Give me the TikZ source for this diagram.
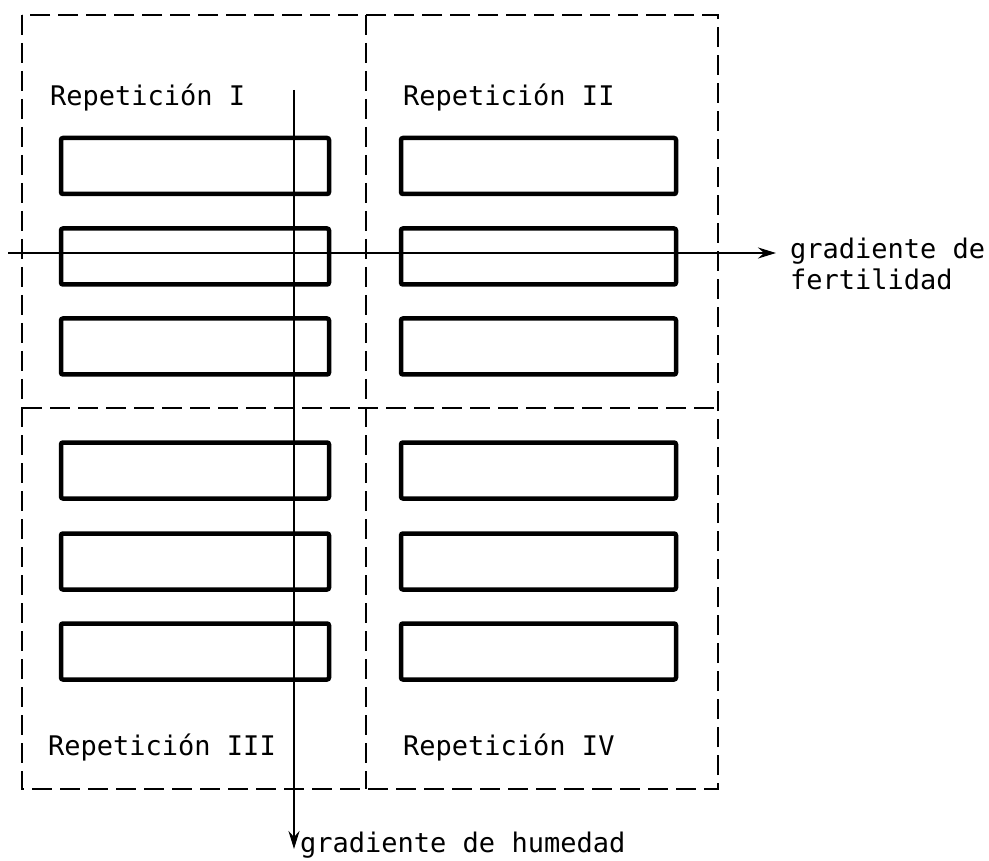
\documentclass[tikz,border=0pt]{standalone}
\usepackage{fontspec}
\setmonofont{DejaVu Sans Mono}
\usetikzlibrary{arrows.meta}
\begin{document}
\begin{tikzpicture}[x=1pt,y=-1pt,
  plot/.style={draw,line width=4.5pt,rounded corners=2pt,minimum height=56pt,inner sep=0pt},
  lplot/.style={plot,minimum width=268pt},
  rplot/.style={plot,minimum width=275pt},
  border/.style={line width=2.8pt,dash pattern=on 20pt off 8pt},
  grad/.style={line width=2.4pt,-{Stealth[length=18pt,width=11pt,inset=6pt]}},
  lab/.style={anchor=base west,inner sep=0pt,font=\fontsize{27}{30}\selectfont\ttfamily}]
\useasboundingbox (0,0) rectangle (989,861);
% dashed blocks
\draw[border] (22,15) rectangle (718,789);
\draw[border] (366,15) -- (366,789);
\draw[border] (22,408) -- (718,408);
% plots
\foreach \n/\y in {1/166,2/256.5,3/346.5,4/470.5,5/561.5,6/651.5}{
  \node[lplot] (L\n) at (195,\y) {};
  \node[rplot] (R\n) at (538.5,\y) {};
}
% labels
\node[lab] (r1) at (50,106) {Repetición I};
\node[lab] (r2) at (403,106) {Repetición II};
\node[lab] (r3) at (48,755) {Repetición III};
\node[lab] (r4) at (403,755) {Repetición IV};
\node[lab] (gf1) at (790,259) {gradiente de};
\node[lab] (gf2) at (790,290) {fertilidad};
\node[lab] (gh) at (300,852) {gradiente de humedad};
% gradients
\coordinate (hs) at (8,253);
\coordinate (he) at (776,253);
\coordinate (vs) at (294,90);
\coordinate (ve) at (294,849);
\draw[grad] (hs) -- (he);
\draw[grad] (vs) -- (ve);
\end{tikzpicture}
\end{document}
